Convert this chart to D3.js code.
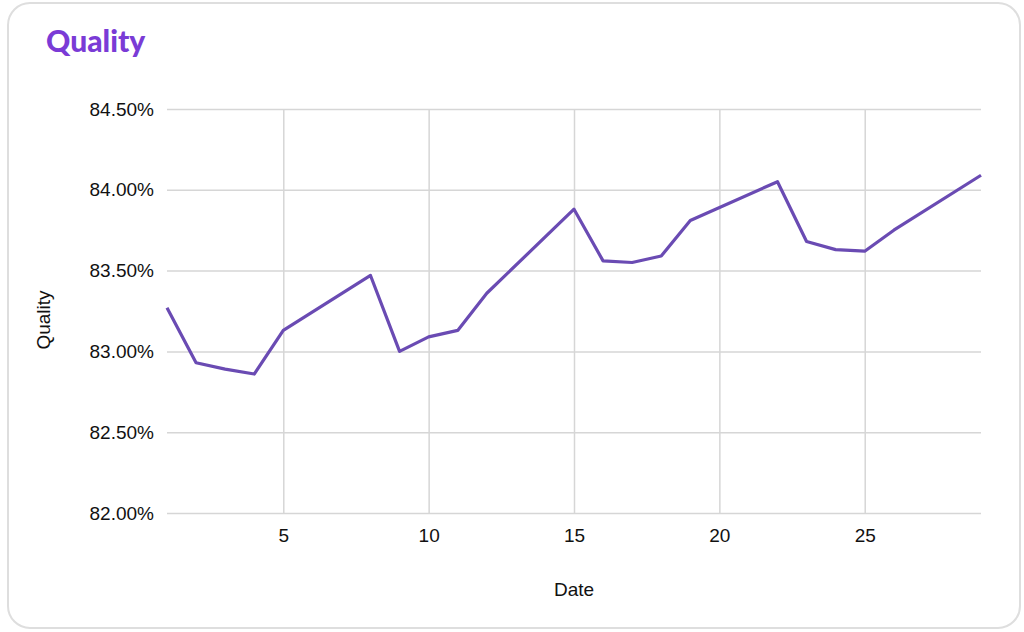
<!DOCTYPE html>
<html>
<head>
<meta charset="utf-8">
<script src="https://cdn.jsdelivr.net/npm/d3@7"></script>
<style>
  html, body { margin: 0; padding: 0; background: #fff; }
  svg { display: block; font-family: "Liberation Sans", Arial, sans-serif; }
  .grid line { stroke: #d6d6d6; stroke-width: 1.5; }
  .grid .domain { display: none; }
  .tick text { fill: #111; font-size: 19px; }
</style>
</head>
<body>
<div id="chart"></div>
<script>
// ---- Data (weekdays only, weekends skipped) ----
const days = [1, 2, 3, 4, 5, 8, 9, 10, 11, 12, 15, 16, 17, 18, 19, 22, 23, 24, 25, 26, 29];
const quality = [83.27, 82.93, 82.89, 82.86, 83.13, 83.47, 83.00, 83.09, 83.13, 83.36,
  83.88, 83.56, 83.55, 83.59, 83.81, 84.05, 83.68, 83.63, 83.62, 83.75, 84.09];
const xTicks = [5, 10, 15, 20, 25];
const yTicks = [82.0, 82.5, 83.0, 83.5, 84.0, 84.5];

const W = 1024, H = 632;
const margin = { top: 109, right: 43, bottom: 119, left: 167 };
const width = W - margin.left - margin.right;
const height = H - margin.top - margin.bottom;

const svg = d3.select("#chart").append("svg")
  .attr("width", W).attr("height", H);

// card
svg.append("rect")
  .attr("x", 8).attr("y", 3)
  .attr("width", 1012).attr("height", 625)
  .attr("rx", 22).attr("ry", 22)
  .attr("fill", "#fff").attr("stroke", "#dedede").attr("stroke-width", 2);

svg.append("text")
  .attr("x", 46).attr("y", 52)
  .attr("fill", "#7a3bd6")
  .style("font-family", "Lato, 'Open Sans', sans-serif")
  .style("font-weight", 900).style("font-size", "30px")
  .text("Quality");

const g = svg.append("g").attr("transform", `translate(${margin.left},${margin.top})`);

// ---- Scales ----
const x = d3.scaleLinear().domain([1, 29]).range([0, width]);
const y = d3.scaleLinear().domain([82, 84.5]).range([height, 0]);

// ---- Grid + axes ----
g.append("g")
  .attr("class", "grid")
  .call(d3.axisLeft(y).tickValues(yTicks).tickSize(-width)
    .tickFormat(d => d.toFixed(2) + "%"))
  .call(s => s.selectAll(".tick text").attr("x", -13));

g.append("g")
  .attr("class", "grid")
  .attr("transform", `translate(0,${height})`)
  .call(d3.axisBottom(x).tickValues(xTicks).tickSize(-height))
  .call(s => s.selectAll(".tick text").attr("y", 29).attr("dy", 0));

// ---- Line ----
const line = d3.line()
  .x((d, i) => x(days[i]))
  .y(d => y(d));

g.append("path")
  .datum(quality)
  .attr("fill", "none")
  .attr("stroke", "#6a4bb3")
  .attr("stroke-width", 3.2)
  .attr("stroke-linejoin", "round")
  .attr("d", line);

// ---- Axis labels ----
g.append("text")
  .attr("x", width / 2)
  .attr("y", height + 83)
  .attr("text-anchor", "middle")
  .style("font-size", "19px").attr("fill", "#111")
  .text("Date");

g.append("text")
  .attr("transform", "rotate(-90)")
  .attr("x", -(320 - margin.top))
  .attr("y", 50 - margin.left)
  .attr("text-anchor", "middle")
  .style("font-size", "19px").attr("fill", "#111")
  .text("Quality");
</script>
</body>
</html>
